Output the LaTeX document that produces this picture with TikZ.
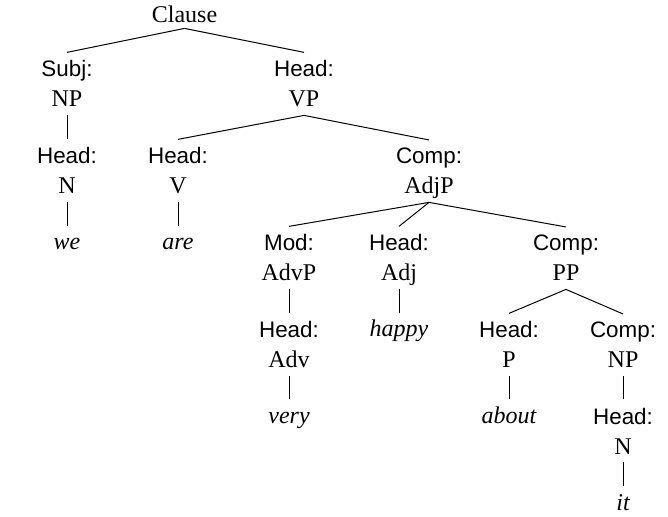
\documentclass[tikz,border=0pt]{standalone}
\usepackage{fontspec}
\setmainfont{Liberation Serif}
\setsansfont{Liberation Sans}
\newcommand{\fnlabel}[1]{{\sffamily\fontsize{11.2}{15}\selectfont #1}\\}
\tikzset{
  cat/.style={align=center, anchor=base, inner xsep=2pt, inner ysep=4pt, text depth=0pt},
  root/.style={anchor=base, inner ysep=2.5pt, text depth=0pt},
  word/.style={anchor=base, inner ysep=4pt, text height=8pt, text depth=0pt, font=\fontsize{12}{15}\selectfont\itshape},
  branch/.style={line width=0.5pt}
}

\begin{document}
\begin{tikzpicture}[x=0.5pt, y=-0.5pt, font=\fontsize{12}{15}\selectfont]
    \useasboundingbox (0,0) rectangle (668,517);
    \node [root] (clause) at (184.5,23) {Clause};
    \node [cat] (subjNP) at (67,107) {\fnlabel{Subj:}NP};
    \node [cat] (headVP) at (304,107) {\fnlabel{Head:}VP};
    \node [cat] (headN) at (67,194) {\fnlabel{Head:}N};
    \node [cat] (headV) at (178,194) {\fnlabel{Head:}V};
    \node [cat] (compAdjP) at (429,194) {\fnlabel{Comp:}AdjP};
    \node [word] (we) at (67,250) {we};
    \node [word] (are) at (178,250) {are};
    \node [cat] (modAdvP) at (289,281) {\fnlabel{Mod:}AdvP};
    \node [cat] (headAdj) at (399,281) {\fnlabel{Head:}Adj};
    \node [cat] (compPP) at (566,281) {\fnlabel{Comp:}PP};
    \node [word] (happy) at (399,337) {happy};
    \node [cat] (headAdv) at (289,368) {\fnlabel{Head:}Adv};
    \node [cat] (headP) at (509,368) {\fnlabel{Head:}P};
    \node [cat] (compNP) at (623,368) {\fnlabel{Comp:}NP};
    \node [word] (very) at (289,423) {very};
    \node [word] (about) at (509,423) {about};
    \node [cat] (headN2) at (623,454) {\fnlabel{Head:}N};
    \node [word] (it) at (623,510) {it};
    \draw [branch] (clause.south) -- (subjNP.north);
    \draw [branch] (clause.south) -- (headVP.north);
    \draw [branch] (subjNP.south) -- (headN.north);
    \draw [branch] (headN.south) -- (we.north);
    \draw [branch] (headVP.south) -- (headV.north);
    \draw [branch] (headVP.south) -- (compAdjP.north);
    \draw [branch] (headV.south) -- (are.north);
    \draw [branch] (compAdjP.south) -- (modAdvP.north);
    \draw [branch] (compAdjP.south) -- (headAdj.north);
    \draw [branch] (compAdjP.south) -- (compPP.north);
    \draw [branch] (modAdvP.south) -- (headAdv.north);
    \draw [branch] (headAdv.south) -- (very.north);
    \draw [branch] (headAdj.south) -- (happy.north);
    \draw [branch] (compPP.south) -- (headP.north);
    \draw [branch] (compPP.south) -- (compNP.north);
    \draw [branch] (headP.south) -- (about.north);
    \draw [branch] (compNP.south) -- (headN2.north);
    \draw [branch] (headN2.south) -- (it.north);
\end{tikzpicture}
\end{document}
